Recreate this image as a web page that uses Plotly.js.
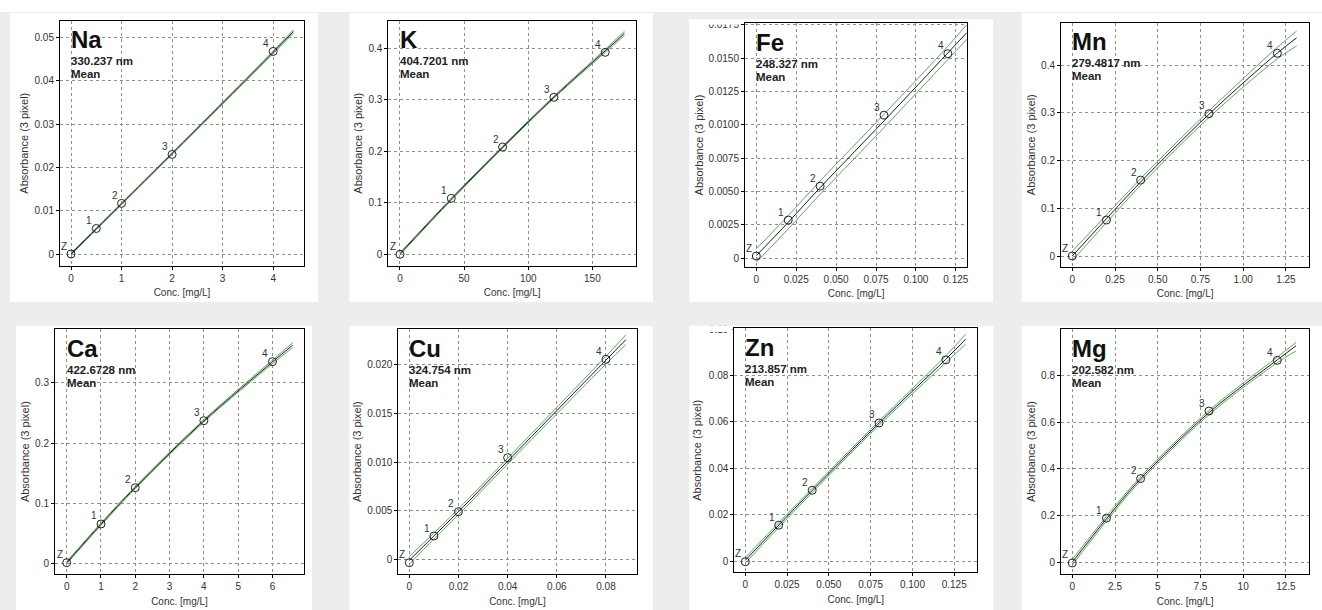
<!DOCTYPE html>
<html><head><meta charset="utf-8">
<script src="https://cdn.plot.ly/plotly-3.0.1.min.js"></script>
<style>html,body{margin:0;padding:0;background:#ededed;} #chart{width:1322px;height:610px;}</style>
</head><body><div id="chart"></div>
<script>
// ---------- DATA ----------
const elements = ['Na','K','Fe','Mn','Ca','Cu','Zn','Mg'];
const wavelengths = ['330.237 nm','404.7201 nm','248.327 nm','279.4817 nm','422.6728 nm','324.754 nm','213.857 nm','202.582 nm'];
const methodLabel = 'Mean';
const pointLabels = ['Z','1','2','3','4'];
const xTitle = 'Conc. [mg/L]';
const yTitle = 'Absorbance (3 pixel)';

// Na
const naConc = [0, 0.5, 1, 2, 4];
const naAbs = [0.0000, 0.0059, 0.0117, 0.0230, 0.0468];
const naCurveX = [0, 0.5, 1, 2, 4, 4.4];
const naFit = [0.0000, 0.0058, 0.0116, 0.0232, 0.0466, 0.0514];
const naUpper = [0.0002, 0.0060, 0.0118, 0.0234, 0.0469, 0.0518];
const naLower = [-0.0002, 0.0056, 0.0114, 0.0230, 0.0463, 0.0510];
const naXTicks = [0, 1, 2, 3, 4];
const naXText = ['0','1','2','3','4'];
const naYTicks = [0, 0.01, 0.02, 0.03, 0.04, 0.05];
const naYText = ['0','0.01','0.02','0.03','0.04','0.05'];

// K
const kConc = [0, 40, 80, 120, 160];
const kAbs = [0.000, 0.1087, 0.2083, 0.3049, 0.3922];
const kCurveX = [0, 40, 80, 120, 160, 175];
const kFit = [0.001, 0.107, 0.208, 0.305, 0.395, 0.429];
const kUpper = [0.003, 0.109, 0.210, 0.307, 0.398, 0.433];
const kLower = [-0.001, 0.105, 0.206, 0.303, 0.392, 0.425];
const kXTicks = [0, 50, 100, 150];
const kXText = ['0','50','100','150'];
const kYTicks = [0, 0.1, 0.2, 0.3, 0.4];
const kYText = ['0','0.1','0.2','0.3','0.4'];

// Fe
const feConc = [0, 0.02, 0.04, 0.08, 0.12];
const feAbs = [0.00017, 0.00287, 0.00541, 0.01073, 0.01534];
const feCurveX = [0, 0.02, 0.04, 0.08, 0.12, 0.1317];
const feFit = [0.0002, 0.0027, 0.0053, 0.0103, 0.0154, 0.0169];
const feUpper = [0.0007, 0.0032, 0.0058, 0.0108, 0.0159, 0.0175];
const feLower = [-0.0003, 0.0022, 0.0048, 0.0098, 0.0149, 0.0164];
const feXTicks = [0, 0.025, 0.05, 0.075, 0.1, 0.125];
const feXText = ['0','0.025','0.050','0.075','0.100','0.125'];
const feYTicks = [0, 0.0025, 0.005, 0.0075, 0.01, 0.0125, 0.015, 0.0175];
const feYText = ['0','0.0025','0.0050','0.0075','0.0100','0.0125','0.0150','0.0175'];

// Mn
const mnConc = [0, 0.2, 0.4, 0.8, 1.2];
const mnAbs = [0.000, 0.0754, 0.159, 0.298, 0.4245];
const mnCurveX = [0, 0.2, 0.4, 0.8, 1.2, 1.313];
const mnFit = [0.000, 0.078, 0.155, 0.297, 0.425, 0.457];
const mnUpper = [0.010, 0.086, 0.162, 0.304, 0.437, 0.471];
const mnLower = [-0.010, 0.070, 0.148, 0.290, 0.413, 0.440];
const mnXTicks = [0, 0.25, 0.5, 0.75, 1, 1.25];
const mnXText = ['0','0.25','0.50','0.75','1.00','1.25'];
const mnYTicks = [0, 0.1, 0.2, 0.3, 0.4];
const mnYText = ['0','0.1','0.2','0.3','0.4'];

// Ca
const caConc = [0, 1, 2, 4, 6];
const caAbs = [0.001, 0.0654, 0.1258, 0.2373, 0.3354];
const caCurveX = [0, 1, 2, 4, 6, 6.59];
const caFit = [0.001, 0.065, 0.126, 0.237, 0.335, 0.363];
const caUpper = [0.003, 0.067, 0.128, 0.239, 0.338, 0.367];
const caLower = [-0.001, 0.063, 0.124, 0.235, 0.332, 0.359];
const caXTicks = [0, 1, 2, 3, 4, 5, 6];
const caXText = ['0','1','2','3','4','5','6'];
const caYTicks = [0, 0.1, 0.2, 0.3];
const caYText = ['0','0.1','0.2','0.3'];

// Cu
const cuConc = [0, 0.01, 0.02, 0.04, 0.08];
const cuAbs = [-0.00035, 0.0024, 0.0049, 0.01046, 0.02058];
const cuCurveX = [0, 0.01, 0.02, 0.04, 0.08, 0.0881];
const cuFit = [-0.0001, 0.0024, 0.0049, 0.0101, 0.0205, 0.0226];
const cuUpper = [0.0003, 0.0027, 0.0052, 0.0104, 0.0209, 0.0231];
const cuLower = [-0.0005, 0.0021, 0.0046, 0.0098, 0.0201, 0.0221];
const cuXTicks = [0, 0.02, 0.04, 0.06, 0.08];
const cuXText = ['0','0.02','0.04','0.06','0.08'];
const cuYTicks = [0, 0.005, 0.01, 0.015, 0.02];
const cuYText = ['0','0.005','0.010','0.015','0.020'];

// Zn
const znConc = [0, 0.02, 0.04, 0.08, 0.12];
const znAbs = [-0.0003, 0.01545, 0.0305, 0.0595, 0.0867];
const znCurveX = [0, 0.02, 0.04, 0.08, 0.12, 0.1318];
const znFit = [0.0003, 0.0155, 0.0304, 0.0594, 0.0870, 0.0956];
const znUpper = [0.0015, 0.0165, 0.0313, 0.0603, 0.0885, 0.0977];
const znLower = [-0.0009, 0.0145, 0.0295, 0.0585, 0.0855, 0.0934];
const znXTicks = [0, 0.025, 0.05, 0.075, 0.1, 0.125];
const znXText = ['0','0.025','0.050','0.075','0.100','0.125'];
const znYTicks = [0, 0.02, 0.04, 0.06, 0.08, 0.1];
const znYText = ['0','0.02','0.04','0.06','0.08','0.10'];

// Mg
const mgConc = [0, 2, 4, 8, 12];
const mgAbs = [-0.003, 0.189, 0.358, 0.647, 0.864];
const mgCurveX = [0, 2, 4, 8, 12, 13.09];
const mgFit = [0.000, 0.186, 0.357, 0.640, 0.866, 0.926];
const mgUpper = [0.012, 0.196, 0.366, 0.649, 0.878, 0.940];
const mgLower = [-0.012, 0.176, 0.348, 0.631, 0.854, 0.904];
const mgXTicks = [0, 2.5, 5, 7.5, 10, 12.5];
const mgXText = ['0','2.5','5','7.5','10','12.5'];
const mgYTicks = [0, 0.2, 0.4, 0.6, 0.8];
const mgYText = ['0','0.2','0.4','0.6','0.8'];

const concs = [naConc,kConc,feConc,mnConc,caConc,cuConc,znConc,mgConc];
const absorb = [naAbs,kAbs,feAbs,mnAbs,caAbs,cuAbs,znAbs,mgAbs];
const curveXs = [naCurveX,kCurveX,feCurveX,mnCurveX,caCurveX,cuCurveX,znCurveX,mgCurveX];
const fits = [naFit,kFit,feFit,mnFit,caFit,cuFit,znFit,mgFit];
const uppers = [naUpper,kUpper,feUpper,mnUpper,caUpper,cuUpper,znUpper,mgUpper];
const lowers = [naLower,kLower,feLower,mnLower,caLower,cuLower,znLower,mgLower];
const xTickVals = [naXTicks,kXTicks,feXTicks,mnXTicks,caXTicks,cuXTicks,znXTicks,mgXTicks];
const xTickTexts = [naXText,kXText,feXText,mnXText,caXText,cuXText,znXText,mgXText];
const yTickVals = [naYTicks,kYTicks,feYTicks,mnYTicks,caYTicks,cuYTicks,znYTicks,mgYTicks];
const yTickTexts = [naYText,kYText,feYText,mnYText,caYText,cuYText,znYText,mgYText];

// ---------- GEOMETRY (pixels: left, right, top, bottom) ----------
const W = 1322, H = 610;
const plotBoxes = [
  [60, 304, 20.7, 265.7], [388.3, 636, 20.7, 265.7], [745, 967.3, 23.3, 266.7], [1061, 1309.3, 22.7, 266.7],
  [55, 304, 329, 574.3], [398.3, 636.7, 329, 574.3], [734.3, 977.3, 328.3, 572.3], [1061, 1309.3, 329, 574.3]
];
const xRanges = [[-0.218,4.61],[-9.1,184],[-0.00708,0.1322],[-0.066,1.387],[-0.341,6.92],[-0.00447,0.0925],[-0.00658,0.1388],[-0.66,13.87]];
const yRanges = [[-0.0027,0.0539],[-0.0221,0.4536],[-0.00063,0.01762],[-0.0224,0.4886],[-0.0183,0.3898],[-0.00154,0.0237],[-0.00485,0.1003],[-0.0515,0.998]];
const whiteBoxes = [
  [10,318,13,302],[349.3,653,13,302],[689.3,993,19,302],[1021.7,1322,13,302],
  [16,312,325.7,610],[349.3,652.7,325.7,610],[689.3,993.3,325.7,610],[1021.7,1322,325.7,610]
];
const yStandoff = [3,3,2,3,3,3,4,3];

const FONT = 'Liberation Sans, Arial, sans-serif';
const GREEN = '#5fa85f';
const BG = '#ededed';
const px = v => v / W;
const py = v => 1 - v / H;

const traces = [];
const layout = {
  width: W, height: H,
  margin: {l:0, r:0, t:0, b:0},
  paper_bgcolor: BG,
  plot_bgcolor: '#ffffff',
  showlegend: false,
  font: {family: FONT, color: '#333'},
  shapes: [], annotations: []
};

// top white strip
layout.shapes.push({type:'rect', xref:'paper', yref:'paper', x0:0, x1:1, y0:py(12), y1:1, fillcolor:'#ffffff', line:{width:0}, layer:'below'});

elements.forEach((el, i) => {
  const n = i === 0 ? '' : String(i + 1);
  const xa = 'x' + n, ya = 'y' + n;
  const [l, r, t, b] = plotBoxes[i];
  const wb = whiteBoxes[i];
  layout.shapes.push({type:'rect', xref:'paper', yref:'paper', x0:px(wb[0]), x1:px(wb[1]), y0:py(wb[3]), y1:py(wb[2]), fillcolor:'#ffffff', line:{width:0}, layer:'below'});

  const axCommon = {
    showgrid: true, gridcolor: '#8f8f8f', griddash: '3px,3px', gridwidth: 1,
    showline: true, mirror: true, linecolor: '#000', linewidth: 1,
    ticks: 'outside', ticklen: 3, tickcolor: '#000', tickwidth: 1,
    tickfont: {family: FONT, size: 10, color: '#333'},
    zeroline: false, fixedrange: true, tickmode: 'array'
  };
  layout['xaxis' + n] = Object.assign({}, axCommon, {
    domain: [px(l), px(r)], anchor: ya, range: xRanges[i],
    tickvals: xTickVals[i], ticktext: xTickTexts[i],
    title: {text: xTitle, font: {family: FONT, size: 10, color: '#333'}, standoff: 6}
  });
  layout['yaxis' + n] = Object.assign({}, axCommon, {
    domain: [py(b), py(t)], anchor: xa, range: yRanges[i],
    tickvals: yTickVals[i], ticktext: yTickTexts[i],
    title: {text: yTitle, font: {family: FONT, size: 11, color: '#333'}, standoff: yStandoff[i]}
  });

  const lineBase = {type:'scatter', mode:'lines', x: curveXs[i], xaxis: xa, yaxis: ya, hoverinfo:'skip'};
  traces.push(Object.assign({}, lineBase, {y: uppers[i], line:{color: GREEN, width: 1, shape:'spline'}}));
  traces.push(Object.assign({}, lineBase, {y: lowers[i], line:{color: GREEN, width: 1, shape:'spline'}}));
  traces.push(Object.assign({}, lineBase, {y: fits[i], line:{color: '#1a1a1a', width: 1, shape:'spline'}}));
  traces.push({
    type:'scatter', mode:'markers', x: concs[i], y: absorb[i], xaxis: xa, yaxis: ya,
    marker: {symbol:'circle-open', size: 8, color:'#222', line:{width:1, color:'#222'}},
    cliponaxis: false
  });
  concs[i].forEach((c, k) => {
    layout.annotations.push({
      text: pointLabels[k], xref: xa, yref: ya, x: c, y: absorb[i][k],
      xshift: -7, yshift: 8, showarrow: false,
      font: {family: FONT, size: 10, color: '#333'}
    });
  });

  layout.annotations.push({
    text: '<b>' + el + '</b>', xref: xa, x: 0, xanchor: 'left', xshift: -2,
    yref: ya + ' domain', y: 1, yanchor: 'top', yshift: -3.5,
    showarrow: false, font: {family: FONT, size: 24, color: '#111'}
  });
  layout.annotations.push({
    text: '<b>' + wavelengths[i] + '</b>', xref: xa, x: 0, xanchor: 'left', xshift: -2,
    yref: ya + ' domain', y: 1, yanchor: 'top', yshift: -32.5,
    showarrow: false, font: {family: FONT, size: 11.5, color: '#222'}
  });
  layout.annotations.push({
    text: '<b>' + methodLabel + '</b>', xref: xa, x: 0, xanchor: 'left', xshift: -2,
    yref: ya + ' domain', y: 1, yanchor: 'top', yshift: -45.5,
    showarrow: false, font: {family: FONT, size: 11.5, color: '#222'}
  });
});

// covers that crop the top tick labels of Fe and Zn (cropped in the screenshot)
layout.shapes.push({type:'rect', xref:'paper', yref:'paper', x0:px(680), x1:px(1000), y0:py(19), y1:py(12), fillcolor:BG, line:{width:0}, layer:'above'});
layout.shapes.push({type:'rect', xref:'paper', yref:'paper', x0:px(689.3), x1:px(741), y0:py(24.5), y1:py(19), fillcolor:'#ffffff', line:{width:0}, layer:'above'});
layout.shapes.push({type:'rect', xref:'paper', yref:'paper', x0:0, x1:1, y0:py(325.7), y1:py(302), fillcolor:BG, line:{width:0}, layer:'above'});
layout.shapes.push({type:'rect', xref:'paper', yref:'paper', x0:px(689.3), x1:px(732.5), y0:py(332), y1:py(325.7), fillcolor:'#ffffff', line:{width:0}, layer:'above'});

Plotly.newPlot('chart', traces, layout, {displayModeBar: false, staticPlot: true});
</script>
</body></html>
